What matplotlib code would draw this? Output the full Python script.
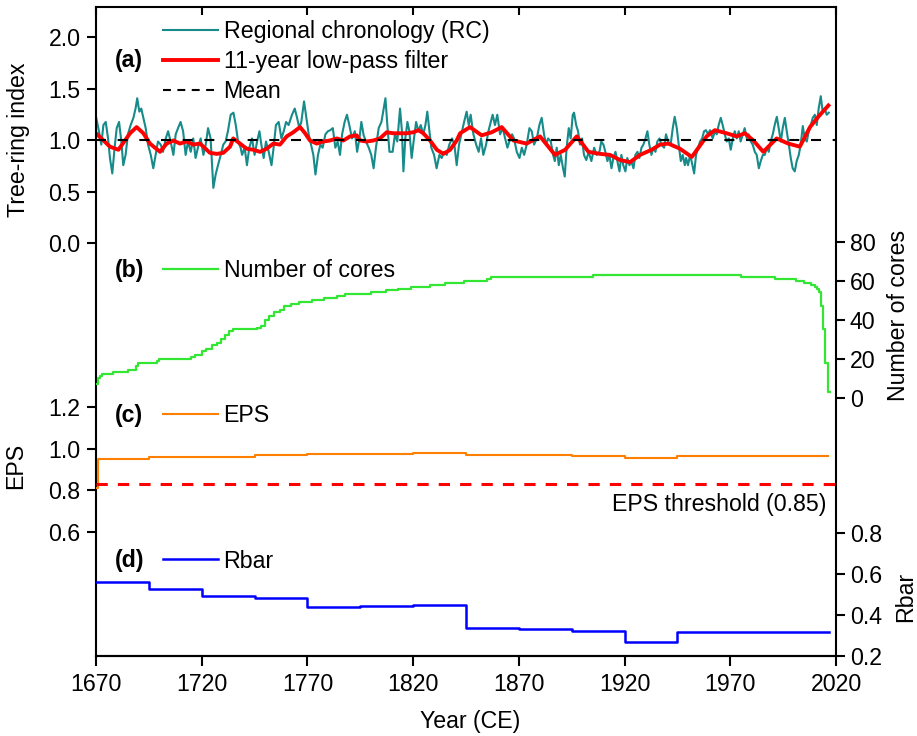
import numpy as np
import matplotlib.pyplot as plt
from matplotlib.lines import Line2D

plt.rcParams['font.family'] = ['Liberation Sans', 'DejaVu Sans']
plt.rcParams['font.size'] = 16.7

# (a) regional chronology
rc_years = [1670.0, 1671.4, 1672.5, 1673.5, 1674.6, 1675.7, 1676.6, 1677.7, 1678.8, 1679.8,
            1680.9, 1682.0, 1682.9, 1684.0, 1685.1, 1686.4, 1687.7, 1688.8, 1689.5, 1690.5,
            1691.4, 1692.4, 1693.5, 1694.6, 1695.9, 1697.1, 1698.2, 1699.3, 1700.6, 1701.7,
            1703.0, 1704.1, 1705.3, 1706.6, 1707.7, 1708.8, 1710.0, 1711.2, 1712.4, 1713.5,
            1714.8, 1716.0, 1717.1, 1718.2, 1719.5, 1720.8, 1721.9, 1723.0, 1724.2, 1725.5,
            1726.6, 1727.7, 1729.0, 1730.2, 1731.3, 1732.4, 1733.7, 1735.0, 1736.1, 1737.2,
            1738.4, 1739.1, 1740.3, 1741.4, 1742.5, 1743.8, 1745.0, 1746.2, 1747.3, 1748.2,
            1749.3, 1750.4, 1751.7, 1753.0, 1754.0, 1755.1, 1756.4, 1757.7, 1758.8, 1759.9,
            1761.1, 1762.7, 1764.0, 1765.1, 1766.2, 1767.1, 1768.4, 1769.5, 1770.6, 1771.7,
            1772.8, 1773.8, 1775.0, 1776.1, 1777.2, 1778.5, 1779.7, 1780.8, 1782.0, 1783.2,
            1784.3, 1785.4, 1786.4, 1787.6, 1788.7, 1789.8, 1791.1, 1792.4, 1793.5, 1794.6,
            1795.5, 1796.6, 1797.7, 1799.0, 1800.2, 1801.3, 1802.4, 1803.7, 1805.0, 1806.1,
            1806.9, 1807.8, 1808.8, 1810.3, 1811.4, 1812.5, 1813.8, 1814.7, 1815.4, 1816.3,
            1817.3, 1818.2, 1819.3, 1820.4, 1821.4, 1822.5, 1823.6, 1824.8, 1825.8, 1826.7,
            1827.7, 1828.6, 1829.9, 1831.1, 1832.4, 1833.5, 1834.6, 1835.9, 1837.1, 1838.4,
            1839.5, 1840.6, 1841.7, 1842.8, 1844.1, 1845.3, 1846.3, 1847.2, 1848.5, 1849.8,
            1851.0, 1852.1, 1853.2, 1854.5, 1855.6, 1856.7, 1857.6, 1858.7, 1859.8, 1861.1,
            1862.4, 1863.5, 1864.6, 1865.5, 1866.8, 1867.7, 1869.0, 1870.3, 1871.4, 1872.5,
            1873.7, 1875.0, 1876.1, 1877.2, 1878.5, 1879.7, 1880.8, 1881.9, 1882.9, 1883.8,
            1885.1, 1886.2, 1887.0, 1887.9, 1888.9, 1889.8, 1890.9, 1891.7, 1892.6, 1893.6,
            1894.5, 1895.5, 1896.1, 1897.1, 1898.0, 1898.9, 1899.9, 1900.8, 1901.9, 1903.0,
            1904.3, 1905.6, 1906.8, 1908.1, 1909.0, 1910.0, 1910.9, 1911.9, 1912.8, 1913.8,
            1914.7, 1915.7, 1916.6, 1917.6, 1918.5, 1919.4, 1920.4, 1921.3, 1922.3, 1923.2,
            1924.2, 1925.1, 1926.1, 1927.0, 1928.0, 1928.9, 1929.9, 1930.8, 1931.7, 1932.7,
            1933.6, 1934.6, 1935.5, 1936.5, 1937.4, 1938.7, 1939.6, 1940.6, 1941.8, 1942.8,
            1943.7, 1944.7, 1945.6, 1946.6, 1947.5, 1948.5, 1949.1, 1950.0, 1951.0, 1951.9,
            1952.9, 1953.8, 1954.8, 1955.7, 1956.7, 1957.6, 1958.5, 1959.5, 1960.4, 1961.7,
            1962.7, 1963.6, 1964.5, 1965.5, 1966.4, 1967.4, 1968.3, 1969.3, 1970.2, 1971.2,
            1972.1, 1973.1, 1974.0, 1974.9, 1975.9, 1976.8, 1977.8, 1978.7, 1979.7, 1980.6,
            1981.6, 1982.5, 1983.5, 1984.4, 1985.4, 1986.3, 1987.3, 1988.2, 1989.1, 1990.1,
            1991.0, 1992.0, 1992.9, 1993.9, 1994.8, 1995.8, 1996.7, 1997.7, 1998.6, 1999.5,
            2000.5, 2001.4, 2002.4, 2003.3, 2004.3, 2005.2, 2006.2, 2007.1, 2008.1, 2009.0,
            2010.0, 2010.9, 2011.8, 2012.8, 2013.7, 2014.7, 2015.6, 2016.6]
rc_values = [1.23, 1.09, 0.96, 1.15, 1.18, 1.02, 0.83, 0.68, 0.93, 1.12,
             1.18, 0.99, 0.76, 0.86, 1.06, 1.15, 1.22, 1.32, 1.41, 1.28,
             1.31, 1.22, 1.12, 0.96, 0.86, 0.73, 0.86, 0.99, 0.96, 0.89,
             1.02, 1.09, 0.99, 0.86, 1.06, 1.12, 1.18, 1.09, 0.86, 0.99,
             0.89, 1.02, 0.83, 0.93, 1.02, 0.86, 0.96, 1.12, 1.02, 0.54,
             0.67, 0.76, 0.86, 0.96, 0.99, 1.09, 1.25, 1.27, 1.15, 0.99,
             0.93, 0.86, 0.93, 0.76, 0.93, 1.02, 0.86, 0.99, 1.09, 0.96,
             0.83, 0.99, 0.89, 0.76, 0.93, 1.15, 1.18, 1.02, 1.09, 1.18,
             1.15, 1.25, 1.31, 1.22, 1.12, 1.18, 1.38, 1.22, 1.06, 0.96,
             0.86, 0.67, 0.86, 0.96, 0.93, 1.06, 1.09, 1.10, 1.12, 0.93,
             0.99, 0.86, 1.06, 1.18, 1.25, 1.15, 1.02, 1.09, 0.89, 1.02,
             1.18, 1.05, 0.99, 0.93, 0.86, 0.73, 0.93, 1.12, 1.18, 1.31,
             1.41, 1.15, 0.89, 0.89, 1.06, 0.99, 1.31, 1.09, 0.70, 1.02,
             1.18, 1.09, 0.83, 1.02, 1.18, 1.09, 1.15, 1.06, 1.15, 1.28,
             1.09, 0.93, 0.86, 0.73, 0.86, 0.83, 0.89, 0.86, 0.96, 1.02,
             0.96, 0.76, 0.96, 1.06, 1.18, 1.28, 1.15, 1.25, 1.06, 0.96,
             0.89, 1.02, 0.86, 0.96, 1.09, 1.18, 1.25, 1.15, 1.25, 1.06,
             1.12, 1.02, 0.93, 0.99, 1.06, 1.02, 0.89, 0.83, 0.93, 0.86,
             0.96, 1.12, 1.09, 0.96, 1.02, 1.15, 1.22, 1.06, 0.96, 1.02,
             0.99, 0.86, 0.80, 0.93, 0.76, 0.86, 0.73, 0.65, 0.93, 1.12,
             1.02, 1.25, 1.27, 1.15, 1.09, 0.96, 1.02, 0.86, 0.81, 0.89,
             0.80, 0.93, 0.86, 0.89, 0.99, 0.96, 0.89, 0.80, 0.86, 0.73,
             0.83, 0.89, 0.80, 0.70, 0.86, 0.76, 0.70, 0.83, 0.76, 0.80,
             0.73, 0.86, 0.89, 0.83, 0.93, 0.96, 1.02, 1.09, 0.96, 0.86,
             0.93, 0.89, 0.99, 1.02, 0.96, 0.93, 1.06, 0.99, 0.96, 1.12,
             1.23, 1.12, 0.96, 0.80, 0.86, 0.76, 0.83, 0.76, 0.86, 0.78,
             0.68, 0.86, 0.93, 0.99, 1.02, 1.09, 1.10, 1.06, 1.10, 1.02,
             1.09, 1.06, 1.15, 1.22, 1.15, 1.06, 0.99, 1.02, 0.91, 1.02,
             1.09, 1.02, 1.09, 0.99, 1.06, 1.12, 1.02, 1.06, 0.99, 0.96,
             0.89, 0.86, 0.73, 0.80, 0.86, 0.86, 0.93, 0.89, 0.99, 1.06,
             1.15, 1.23, 1.12, 0.99, 1.12, 1.22, 1.09, 0.96, 0.83, 0.73,
             0.70, 0.80, 0.86, 0.96, 1.14, 1.02, 0.99, 1.09, 1.15, 1.22,
             1.25, 1.15, 1.31, 1.43, 1.28, 1.31, 1.25, 1.27]

# 11-year low-pass filter
lp_years = [1670.0, 1676.6, 1680.6, 1686.1, 1689.2, 1692.4, 1695.5, 1700.3, 1703.4, 1706.6,
            1709.7, 1712.9, 1716.0, 1719.2, 1720.8, 1723.9, 1727.1, 1730.2, 1733.4, 1734.9,
            1738.1, 1741.3, 1744.4, 1747.6, 1750.7, 1753.9, 1757.0, 1760.2, 1763.3, 1766.5,
            1768.9, 1771.2, 1774.4, 1777.5, 1780.7, 1783.9, 1787.0, 1790.2, 1793.3, 1794.9,
            1798.0, 1801.2, 1804.3, 1807.5, 1810.6, 1813.8, 1817.0, 1820.1, 1822.5, 1824.8,
            1828.0, 1831.2, 1834.3, 1837.5, 1840.6, 1842.2, 1846.9, 1852.4, 1857.2, 1861.9,
            1867.4, 1873.7, 1880.0, 1887.1, 1891.9, 1897.4, 1902.9, 1908.4, 1913.1, 1917.9,
            1922.6, 1927.3, 1932.8, 1936.8, 1940.7, 1946.2, 1951.8, 1958.8, 1962.7, 1968.3,
            1973.0, 1976.9, 1980.9, 1985.6, 1991.9, 1997.4, 2002.9, 2007.7, 2011.6, 2016.4]
lp_values = [1.07, 0.94, 0.91, 1.07, 1.13, 1.07, 0.97, 0.89, 0.97, 1.00,
             0.97, 0.99, 0.96, 0.97, 0.94, 0.88, 0.87, 0.88, 0.94, 1.02,
             0.97, 0.92, 0.91, 0.89, 0.92, 0.97, 0.96, 1.04, 1.08, 1.13,
             1.07, 1.00, 0.97, 0.99, 1.00, 1.02, 1.00, 1.04, 1.05, 1.00,
             0.99, 1.00, 1.02, 1.08, 1.07, 1.07, 1.07, 1.08, 1.10, 1.07,
             1.00, 0.91, 0.87, 0.91, 1.00, 1.07, 1.13, 1.05, 1.08, 1.13,
             1.00, 0.97, 1.04, 0.86, 0.91, 1.04, 0.89, 0.87, 0.86, 0.81,
             0.79, 0.86, 0.91, 0.96, 0.97, 0.92, 0.84, 1.04, 1.10, 1.07,
             1.04, 1.07, 1.00, 0.89, 1.02, 0.97, 0.94, 1.13, 1.23, 1.34]
rc_mean = 1.0

# (b) sample depth (step changes)
core_years = [1670, 1671, 1672, 1673, 1678, 1685, 1689, 1690, 1699, 1700,
              1715, 1717, 1720, 1722, 1725, 1727, 1729, 1731, 1733, 1735,
              1746, 1748, 1750, 1752, 1754, 1757, 1759, 1762, 1766, 1772,
              1778, 1784, 1788, 1800, 1807, 1813, 1819, 1828, 1835, 1844,
              1855, 1857, 1905, 1975, 1991, 2001, 2005, 2008, 2010, 2011,
              2012, 2013, 2014, 2015, 2016, 2017]
core_counts = [7, 10, 11, 12, 13, 14, 16, 18, 19, 20,
               21, 22, 24, 25, 27, 28, 30, 32, 34, 35,
               36, 37, 40, 42, 44, 45, 47, 48, 49, 50,
               51, 52, 53, 54, 55, 56, 57, 58, 59, 60,
               61, 62, 63, 62, 61, 60, 59, 58, 57, 56,
               54, 47, 35, 18, 3, 3]

# (c) EPS, (d) Rbar in 25-year steps
eps_years = [1670, 1671, 1695, 1720, 1745, 1770, 1795, 1820, 1845, 1870, 1895, 1920, 1945, 1970, 1995, 2016]
eps_values = [0.81, 0.950, 0.959, 0.960, 0.968, 0.974, 0.977, 0.978, 0.970, 0.969, 0.967, 0.957, 0.966, 0.966, 0.966, 0.966]
eps_threshold = 0.83

rbar_years = [1670, 1695, 1720, 1745, 1770, 1795, 1820, 1845, 1870, 1895, 1920, 1945, 1970, 2016.5]
rbar_values = [0.562, 0.527, 0.493, 0.484, 0.437, 0.445, 0.450, 0.335, 0.333, 0.324, 0.268, 0.319, 0.316, 0.316]

year_ticks = np.arange(1670, 2021, 50)

W, H = 917, 736
fig = plt.figure(figsize=(W / 100, H / 100), dpi=100)
L, R, T, B = 96, 836, 7, 656
ax_a = fig.add_axes([L / W, 1 - B / H, (R - L) / W, (B - T) / H])

ax_b = ax_a.twinx()
ax_c = ax_a.twinx()
ax_d = ax_a.twinx()
for a in (ax_b, ax_c, ax_d):
    for s in a.spines.values():
        s.set_visible(False)
for s in ax_a.spines.values():
    s.set_linewidth(1.5)

# inward ticks on top (main axes), outward ticks and labels at the bottom
ax_a.set_xlim(1670, 2020)
ax_a.set_xticks(year_ticks)
ax_a.tick_params(axis='x', direction='in', length=6, width=1.5, top=True, bottom=False, labelbottom=False)
bottom = ax_a.secondary_xaxis('bottom')
bottom.set_xticks(year_ticks)
bottom.tick_params(direction='out', length=7, width=1.5, pad=5)
bottom.spines['bottom'].set_linewidth(1.5)
ax_a.set_xlabel('Year (CE)')
ax_a.xaxis.set_label_coords(0.505, -0.101)
ax_a.xaxis.label.set(va='center', ha='center')

# panel (a)
ax_a.plot(rc_years, rc_values, color='#178a8a', lw=1.5, label='Regional chronology (RC)')
ax_a.plot(lp_years, lp_values, color='#ff0000', lw=2.8, label='11-year low-pass filter')
ax_a.axhline(rc_mean, color='black', lw=1.5, ls=(0, (4.8, 5.6)))
ax_a.set_ylim(-4.005, 2.296)
ax_a.set_yticks([0.0, 0.5, 1.0, 1.5, 2.0])
ax_a.set_yticklabels(['0.0', '0.5', '1.0', '1.5', '2.0'])
ax_a.tick_params(axis='y', direction='out', length=6.5, width=1.5, pad=4.5)
ax_a.set_ylabel('Tree-ring index')
ax_a.yaxis.set_label_coords(-0.1054, 0.795)
ax_a.yaxis.label.set(va='center', ha='center')

h_a = ax_a.get_lines()[:2] + [Line2D([], [], color='black', lw=1.5, ls=(0, (3.8, 3.1)))]
ax_a.legend(handles=h_a, labels=['Regional chronology (RC)', '11-year low-pass filter', 'Mean'],
            loc='upper left', bbox_to_anchor=(163 / W, 1 - 20 / H), bbox_transform=fig.transFigure,
            frameon=False, borderpad=0, borderaxespad=0, handlelength=2.35, handletextpad=0.26,
            labelspacing=0.3, fontsize=16.7)

# panel (b)
ax_b.plot(core_years, core_counts, color='#33e633', lw=1.6, drawstyle='steps-post', label='Number of cores')
ax_b.set_ylim(-132.5, 200.4)
ax_b.set_yticks([0, 20, 40, 60, 80])
ax_b.tick_params(axis='y', direction='out', length=6.5, width=1.5, pad=3.5)
ax_b.set_ylabel('Number of cores')
ax_b.yaxis.set_label_coords(1.085, 0.525)
ax_b.yaxis.label.set(va='center', ha='center')
ax_b.legend(loc='center left', bbox_to_anchor=(163 / W, 1 - 271 / H), bbox_transform=fig.transFigure,
            frameon=False, borderpad=0, borderaxespad=0, handlelength=2.35, handletextpad=0.26,
            fontsize=16.7)

# panel (c)
ax_c.yaxis.tick_left()
ax_c.yaxis.set_label_position('left')
ax_c.plot(eps_years, eps_values, color='#ff8000', lw=1.5, drawstyle='steps-post', label='EPS')
ax_c.axhline(eps_threshold, color='#ff0000', lw=2.2, ls=(0, (3.7, 3.3)))
ax_c.set_ylim(0.0055, 3.121)
ax_c.set_yticks([0.6, 0.8, 1.0, 1.2])
ax_c.set_yticklabels(['0.6', '0.8', '1.0', '1.2'])
ax_c.tick_params(axis='y', direction='out', length=6.5, width=1.5, pad=4.5)
ax_c.set_ylabel('EPS')
ax_c.yaxis.set_label_coords(-0.108, 0.293)
ax_c.yaxis.label.set(va='center', ha='center')
ax_c.text(0.9874, 0.2327, 'EPS threshold (0.85)', transform=ax_c.transAxes, ha='right', va='center')
ax_c.legend(handles=ax_c.get_lines()[:1], loc='center left', bbox_to_anchor=(163 / W, 1 - 416 / H),
            bbox_transform=fig.transFigure, frameon=False, borderpad=0, borderaxespad=0,
            handlelength=2.35, handletextpad=0.26, fontsize=16.7)

# panel (d)
ax_d.plot(rbar_years, rbar_values, color='#0000ff', lw=1.8, drawstyle='steps-post', label='Rbar')
ax_d.set_ylim(0.2, 3.366)
ax_d.set_yticks([0.2, 0.4, 0.6, 0.8])
ax_d.tick_params(axis='y', direction='out', length=6.5, width=1.5, pad=3.5)
ax_d.set_ylabel('Rbar')
ax_d.yaxis.set_label_coords(1.094, 0.0914)
ax_d.yaxis.label.set(va='center', ha='center')
ax_d.legend(loc='center left', bbox_to_anchor=(163 / W, 1 - 561 / H), bbox_transform=fig.transFigure,
            frameon=False, borderpad=0, borderaxespad=0, handlelength=2.35, handletextpad=0.26,
            fontsize=16.7)

for lab, y in (('(a)', 61), ('(b)', 271), ('(c)', 416), ('(d)', 561)):
    fig.text(115 / W, 1 - y / H, lab, fontweight='bold', ha='left', va='center')

fig.savefig('out.png', dpi=100)
